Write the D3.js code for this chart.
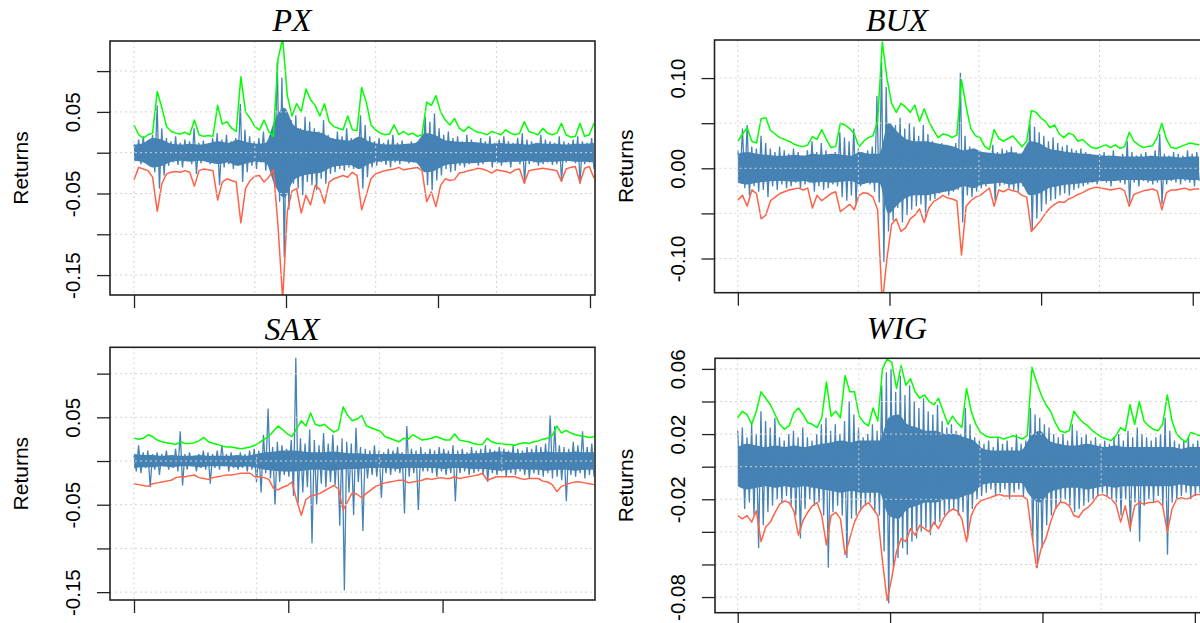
<!DOCTYPE html>
<meta charset="utf-8">
<style>

body { margin: 0; background: #fff; }
text { font-family: "Liberation Sans", Arial, sans-serif; fill: #000; }
.title { font-family: "Liberation Serif", "Times New Roman", serif; font-style: italic; font-size: 32px; }
.grid line { stroke: #d3d3d3; stroke-width: 1; stroke-dasharray: 2,3; }
.axis line { stroke: #222; stroke-width: 1.3; }
.axis text { font-size: 20.5px; }

</style>
<body>
<script src="https://d3js.org/d3.v7.min.js"></script>
<script>

// all series are daily values x 1000
// ret  = returns (blue), alternating high / low swings
// core = half width of the dense part of the returns cloud
// up   = upper VaR band (green), lo = lower VaR band (red)

var pxRet = [10,-8, 16,-14, 20,-12, 14,-16, 22,-24, 58,-44, 30,-28, 18,-16, 14,-12, 20,-15,
  12,-18, 16,-10, 14,-14, 30,-26, 12,-13, 15,-10, 10,-14, 18,-12, 24,-40, 16,-18,
  22,-14, 14,-20, 18,-16, 60,-36, 28,-24, 20,-16, 14,-20, 18,-12, 26,-22, 12,-14,
  16,-12, 112,-60, 92,-128, 50,-70, 40,-38, 46,-44, 30,-52, 44,-36, 38,-40, 30,-46,
  26,-32, 40,-38, 22,-26, 18,-24, 26,-20, 20,-22, 30,-18, 18,-20, 16,-16, 46,-44,
  34,-30, 20,-18, 14,-16, 18,-12, 12,-15, 16,-18, 22,-12, 12,-14, 15,-10, 10,-13,
  14,-12, 12,-10, 16,-14, 44,-40, 38,-46, 48,-34, 30,-28, 22,-20, 26,-24, 18,-22,
  20,-16, 14,-18, 22,-14, 16,-12, 12,-16, 18,-14, 14,-10, 20,-18, 12,-13, 16,-16,
  20,-12, 14,-18, 12,-11, 18,-14, 24,-38, 16,-14, 14,-12, 12,-16, 22,-14, 16,-12,
  14,-15, 12,-14, 20,-36, 14,-12, 12,-10, 16,-13, 20,-38, 14,-14, 12,-12, 18,-20];
var pxCore = [10,12,18,16,11,10,11,10,12,14, 12,16,13,11,12,40,55,34,28,26,
  24,18,16,15,20,14,11,10,10,11, 12,24,22,16,14,13,13,12,11,12,
  11,11,10,12,11,11,10,11,11,12];
var pxUp = [34,22,18,22,24,75,55,32,26,24,
  23,25,22,40,22,20,21,20,58,35,
  38,30,26,93,50,42,32,28,40,26,
  20,115,140,70,45,60,50,78,65,58,
  45,60,38,32,30,28,45,28,27,80,
  62,34,28,24,22,23,34,22,26,22,
  24,20,22,62,58,70,50,40,34,42,
  30,26,32,28,25,24,22,26,24,22,
  28,24,22,24,38,26,24,22,30,24,
  22,24,36,22,19,20,36,20,22,36];
var pxLo = [-33,-18,-20,-22,-30,-72,-38,-26,-24,-23,
  -24,-22,-24,-41,-22,-20,-21,-22,-58,-36,
  -32,-34,-36,-86,-44,-34,-29,-28,-36,-30,
  -21,-90,-180,-72,-47,-44,-74,-52,-64,-40,
  -45,-62,-36,-32,-30,-28,-30,-24,-28,-70,
  -52,-32,-26,-24,-22,-21,-20,-18,-21,-20,
  -19,-18,-22,-60,-48,-66,-40,-32,-34,-33,
  -25,-24,-22,-21,-19,-20,-22,-25,-21,-22,
  -23,-25,-21,-20,-37,-22,-21,-20,-19,-20,
  -21,-22,-35,-20,-18,-17,-37,-19,-17,-31];

var buxRet = [20,-10, 44,-22, 48,-30, 24,-20, 22,-26, 36,-24, 28,-32, 22,-20, 18,-24, 24,-18,
  20,-22, 16,-20, 22,-16, 18,-22, 14,-18, 20,-16, 30,-26, 18,-20, 28,-24, 20,-22,
  16,-18, 18,-20, 40,-32, 34,-36, 30,-30, 44,-40, 22,-20, 16,-14, 20,-18, 24,-26,
  80,-38, 118,-104, 90,-70, 50,-58, 48,-44, 56,-60, 44,-52, 50,-46, 46,-42, 36,-40,
  48,-54, 38,-36, 30,-34, 24,-28, 28,-24, 26,-30, 24,-26, 28,-24, 106,-60, 36,-30,
  24,-32, 22,-26, 20,-22, 16,-20, 14,-16, 26,-36, 18,-20, 22,-18, 20,-22, 24,-24,
  18,-26, 16,-20, 22,-24, 52,-68, 46,-56, 40,-48, 36,-40, 30,-36, 34,-34, 28,-30,
  24,-28, 26,-30, 22,-24, 20,-22, 22,-20, 18,-18, 16,-16, 14,-18, 16,-14, 18,-16,
  14,-20, 20,-14, 12,-16, 16,-18, 30,-38, 18,-16, 14,-20, 16,-14, 18,-16, 14,-18,
  20,-16, 38,-40, 16,-18, 14,-14, 18,-16, 16,-18, 14,-14, 20,-16, 16,-20, 18,-14];
var buxCore = [16,18,16,15,14,14,15,14,16,15, 16,15,14,18,16,16,50,40,32,30,
  30,28,26,24,20,22,18,17,16,18, 16,30,28,22,20,18,17,16,15,14,
  14,13,13,13,14,13,13,12,13,13];
var buxUp = [30,38,45,30,28,55,56,42,38,34,
  32,30,27,25,24,26,35,32,43,32,
  23,24,50,48,44,38,24,30,34,36,
  52,140,100,72,62,72,68,62,70,52,
  66,52,42,34,38,37,34,37,98,68,
  44,36,34,24,21,43,33,30,33,36,
  30,24,30,64,62,56,52,45,48,38,
  34,39,37,30,32,27,23,22,24,26,
  23,26,22,24,40,30,26,23,24,25,
  34,50,32,23,22,24,26,28,27,26];
var buxLo = [-35,-30,-42,-24,-28,-56,-52,-36,-32,-28,
  -26,-24,-23,-22,-24,-22,-44,-30,-36,-32,
  -28,-26,-48,-44,-40,-46,-30,-27,-28,-32,
  -46,-150,-100,-62,-56,-70,-66,-56,-52,-45,
  -60,-44,-37,-34,-30,-33,-34,-36,-96,-42,
  -36,-32,-30,-26,-22,-42,-24,-26,-23,-25,
  -26,-30,-32,-70,-64,-58,-50,-44,-40,-37,
  -38,-34,-32,-29,-27,-24,-22,-21,-22,-23,
  -24,-23,-22,-25,-42,-29,-27,-25,-24,-23,
  -25,-46,-27,-24,-24,-23,-22,-24,-23,-23];

var saxRet = [6,-12, 18,-14, 10,-8, 12,-30, 8,-10, 10,-16, 8,-6, 12,-10, 6,-8, 14,-12,
  34,-28, 8,-10, 10,-6, 6,-12, 8,-8, 12,-10, 10,-26, 8,-8, 12,-10, 18,-6,
  8,-12, 10,-8, 6,-10, 10,-8, 8,-12, 12,-10, 14,-24, 12,-36, 30,-14, 60,-20,
  16,-50, 22,-24, 18,-16, 14,-18, 24,-40, 118,-48, 26,-36, 20,-30, 36,-94, 24,-50,
  18,-26, 32,-30, 20,-24, 30,-28, 18,-74, 26,-148, 22,-36, 20,-62, 38,-24, 16,-80,
  14,-20, 12,-16, 18,-18, 12,-42, 10,-14, 14,-16, 12,-12, 16,-14, 10,-60, 40,-18,
  14,-14, 12,-56, 16,-12, 10,-12, 14,-14, 12,-18, 16,-12, 14,-16, 12,-14, 18,-46,
  12,-14, 14,-12, 10,-16, 16,-14, 12,-12, 14,-16, 18,-24, 14,-14, 12,-16, 16,-12,
  14,-18, 12,-14, 18,-16, 14,-12, 12,-16, 16,-20, 14,-14, 18,-16, 16,-18, 20,-14,
  52,-20, 40,-18, 18,-22, 16,-46, 14,-16, 22,-18, 18,-14, 34,-20, 16,-16, 20,-18];
var saxCore = [8,7,7,6,7,6,6,7,6,6, 6,7,6,8,10,11,12,12,11,10,
  10,11,10,9,9,8,8,8,9,8, 8,8,8,9,8,8,9,9,10,11,
  10,9,10,10,11,10,10,11,10,10];
var saxUp = [26,25,26,30,28,24,22,21,20,19,
  22,20,20,21,23,27,22,20,19,17,
  16,16,15,14,15,16,18,21,25,28,
  34,40,36,31,28,37,46,40,55,42,
  40,42,37,33,36,62,52,46,48,52,
  40,38,36,34,28,26,24,22,26,25,
  30,27,24,25,26,28,26,24,24,31,
  24,23,22,20,19,19,26,22,20,20,
  19,19,18,20,21,20,22,23,25,26,
  29,40,32,35,32,30,29,28,27,28];
var saxLo = [-26,-27,-28,-29,-26,-25,-24,-23,-22,-19,
  -18,-18,-17,-16,-19,-20,-21,-19,-18,-17,
  -16,-16,-15,-14,-14,-14,-18,-18,-19,-21,
  -31,-33,-30,-28,-24,-45,-62,-44,-40,-39,
  -37,-34,-31,-28,-32,-56,-46,-36,-38,-42,
  -37,-33,-29,-27,-25,-24,-23,-22,-22,-25,
  -24,-23,-22,-20,-21,-20,-19,-20,-20,-18,
  -20,-19,-18,-17,-16,-14,-22,-20,-18,-18,
  -18,-18,-18,-20,-21,-20,-20,-20,-23,-24,
  -27,-35,-29,-27,-25,-24,-24,-25,-26,-27];

var wigRet = [22,-12, 24,-26, 18,-22, 26,-30, 20,-50, 34,-36, 28,-28, 24,-24, 30,-20, 18,-22,
  16,-18, 20,-24, 22,-30, 18,-44, 24,-26, 18,-20, 16,-24, 20,-22, 26,-30, 30,-62,
  22,-28, 26,-24, 20,-30, 28,-56, 40,-32, 32,-30, 24,-26, 18,-24, 20,-22, 26,-28,
  22,-30, 50,-52, 58,-84, 60,-62, 46,-56, 56,-50, 44,-54, 50,-46, 40,-44, 36,-40,
  42,-38, 34,-42, 32,-36, 38,-34, 28,-30, 24,-28, 26,-26, 22,-30, 20,-28, 36,-44,
  26,-26, 18,-20, 16,-18, 14,-16, 16,-14, 12,-18, 18,-16, 14,-14, 16,-20, 12,-16,
  20,-14, 14,-18, 16,-16, 36,-46, 32,-62, 30,-50, 26,-36, 24,-30, 20,-26, 18,-22,
  20,-20, 16,-24, 26,-28, 22,-26, 18,-24, 20,-22, 16,-20, 18,-18, 14,-16, 16,-18,
  14,-20, 18,-22, 20,-30, 16,-20, 22,-40, 18,-22, 24,-46, 20,-24, 18,-20, 16,-22,
  18,-18, 20,-24, 30,-54, 22,-22, 16,-20, 14,-18, 16,-16, 18,-20, 14,-18, 16,-16];
var wigCore = [12,14,13,12,13,12,13,12,13,14, 15,16,15,16,16,16,30,32,26,24,
  22,22,20,20,18,16,11,10,10,10, 10,18,22,16,14,13,13,14,13,12,
  13,12,12,12,12,12,12,11,12,12];
var wigUp = [30,34,32,26,34,46,42,38,32,26,
  23,25,33,36,32,27,26,24,30,52,
  31,34,30,56,46,46,31,27,25,36,
  28,60,66,64,48,62,50,54,46,42,
  44,40,38,42,34,26,31,27,24,48,
  34,26,21,19,18,18,18,17,18,19,
  18,17,19,61,52,44,38,34,27,22,
  21,22,34,30,27,25,22,20,18,17,
  16,19,24,22,38,26,40,28,25,23,
  22,26,44,28,20,17,15,21,20,19];
var wigLo = [-30,-32,-30,-34,-27,-46,-37,-34,-28,-23,
  -21,-22,-27,-42,-33,-28,-24,-22,-30,-48,
  -30,-28,-32,-54,-44,-34,-28,-24,-22,-26,
  -30,-58,-82,-68,-52,-44,-46,-38,-42,-36,
  -38,-40,-34,-38,-32,-28,-26,-27,-32,-46,
  -30,-24,-21,-20,-19,-18,-17,-18,-18,-18,
  -18,-18,-20,-42,-62,-50,-44,-34,-26,-22,
  -22,-24,-30,-31,-27,-25,-22,-18,-17,-18,
  -20,-23,-34,-24,-38,-24,-22,-23,-22,-22,
  -21,-24,-40,-26,-20,-19,-20,-19,-17,-17];

// axis ticks
var pxTicks = [-0.15, -0.10, -0.05, 0, 0.05, 0.10], pxLabels = [-0.15, -0.05, 0.05];
var buxTicks = [-0.10, -0.05, 0, 0.05, 0.10], buxLabels = [-0.10, 0, 0.10];
var saxTicks = [-0.15, -0.10, -0.05, 0, 0.05, 0.10], saxLabels = [-0.15, -0.05, 0.05];
var wigTicks = [-0.08, -0.06, -0.04, -0.02, 0, 0.02, 0.04, 0.06], wigLabels = [-0.08, -0.02, 0.02, 0.06];
var xTicks = [0, 1000, 2000, 3000];
var xGrid = [0, 795, 1590, 2385, 3180];

var panels = [
  {name: "PX", ret: pxRet, core: pxCore, up: pxUp, lo: pxLo, ticks: pxTicks, labels: pxLabels,
   left: 110, right: 595, top: 41, bottom: 295, xDomain: [-158, 3033], tEnd: 3026,
   yDomain: [-0.1744, 0.1369], titleX: 292, titleY: 31},
  {name: "BUX", ret: buxRet, core: buxCore, up: buxUp, lo: buxLo, ticks: buxTicks, labels: buxLabels,
   left: 714.5, right: 1202, top: 40, bottom: 292.7, xDomain: [-154, 3061], tEnd: 3042,
   yDomain: [-0.1379, 0.1422], titleX: 897, titleY: 31},
  {name: "SAX", ret: saxRet, core: saxCore, up: saxUp, lo: saxLo, ticks: saxTicks, labels: saxLabels,
   left: 110, right: 595, top: 347.3, bottom: 600, xDomain: [-155.5, 2988], tEnd: 2982,
   yDomain: [-0.159, 0.1301], titleX: 292, titleY: 340},
  {name: "WIG", ret: wigRet, core: wigCore, up: wigUp, lo: wigLo, ticks: wigTicks, labels: wigLabels,
   left: 715, right: 1202, top: 358.3, bottom: 612.7, xDomain: [-149, 3047], tEnd: 3034,
   yDomain: [-0.0896, 0.0665], titleX: 897, titleY: 339}
];

var svg = d3.select("body").append("svg")
    .attr("width", 1200)
    .attr("height", 623);

function fmt(d) { return d.toFixed(2); }

panels.forEach(function(p, k) {
  var x = d3.scaleLinear().domain(p.xDomain).range([p.left, p.right]);
  var y = d3.scaleLinear().domain(p.yDomain).range([p.bottom, p.top]);

  // series index -> time
  function series(vals) {
    return vals.map(function(v, i) { return {t: i / (vals.length - 1) * p.tEnd, v: v / 1000}; });
  }
  var line = d3.line()
      .x(function(d) { return x(d.t); })
      .y(function(d) { return y(d.v); });
  var band = d3.area()
      .x(function(d) { return x(d.t); })
      .y0(function(d) { return y(-d.v); })
      .y1(function(d) { return y(d.v); })
      .curve(d3.curveMonotoneX);

  svg.append("clipPath").attr("id", "clip" + k)
    .append("rect")
      .attr("x", p.left).attr("y", p.top)
      .attr("width", p.right - p.left).attr("height", p.bottom - p.top);

  var plot = svg.append("g").attr("clip-path", "url(#clip" + k + ")");

  plot.append("path")
      .datum(series(p.core))
      .attr("fill", "steelblue")
      .attr("d", band);

  plot.append("path")
      .datum(series(p.ret))
      .attr("fill", "none")
      .attr("stroke", "steelblue")
      .attr("stroke-width", 1.3)
      .attr("d", line);

  plot.append("path")
      .datum(series(p.up))
      .attr("fill", "none")
      .attr("stroke", "#00ff00")
      .attr("stroke-width", 1.5)
      .attr("stroke-linejoin", "round")
      .attr("d", line);

  plot.append("path")
      .datum(series(p.lo))
      .attr("fill", "none")
      .attr("stroke", "tomato")
      .attr("stroke-width", 1.5)
      .attr("stroke-linejoin", "round")
      .attr("d", line);

  // dotted grid on top of the lines
  var grid = plot.append("g").attr("class", "grid");
  grid.selectAll(".h")
      .data(p.ticks)
    .enter().append("line")
      .attr("x1", p.left).attr("x2", p.right)
      .attr("y1", function(d) { return y(d); })
      .attr("y2", function(d) { return y(d); });
  grid.selectAll(".v")
      .data(xGrid.filter(function(d) { return d <= p.xDomain[1]; }))
    .enter().append("line")
      .attr("y1", p.top).attr("y2", p.bottom)
      .attr("x1", function(d) { return x(d); })
      .attr("x2", function(d) { return x(d); });

  // box
  svg.append("rect")
      .attr("x", p.left).attr("y", p.top)
      .attr("width", p.right - p.left).attr("height", p.bottom - p.top)
      .attr("fill", "none")
      .attr("stroke", "#222")
      .attr("stroke-width", 1.6);

  // y axis
  var yAxis = svg.append("g")
      .attr("class", "axis")
      .attr("transform", "translate(" + p.left + ",0)")
      .call(d3.axisLeft(y).tickValues(p.ticks).tickSize(13)
        .tickFormat(function(d) { return p.labels.some(function(l) { return Math.abs(l - d) < 1e-9; }) ? fmt(d) : ""; }));
  yAxis.select(".domain").remove();
  yAxis.selectAll("text")
      .attr("x", 0)
      .attr("y", -30)
      .attr("dy", null)
      .attr("text-anchor", "middle")
      .attr("transform", "rotate(-90)");

  // x axis (ticks only)
  var xAxis = svg.append("g")
      .attr("class", "axis")
      .attr("transform", "translate(0," + p.bottom + ")")
      .call(d3.axisBottom(x).tickValues(xTicks.filter(function(d) { return d <= p.xDomain[1]; }))
        .tickSize(13).tickFormat(""));
  xAxis.select(".domain").remove();

  // labels
  svg.append("text")
      .attr("class", "title")
      .attr("x", p.titleX)
      .attr("y", p.titleY)
      .attr("text-anchor", "middle")
      .text(p.name);

  svg.append("text")
      .attr("transform", "translate(" + (p.left - 82) + "," + ((p.top + p.bottom) / 2) + ") rotate(-90)")
      .attr("text-anchor", "middle")
      .style("font-size", "21px")
      .text("Returns");
});

</script>
</body>
